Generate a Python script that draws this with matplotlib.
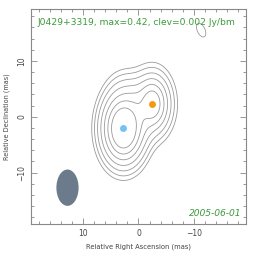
import matplotlib
matplotlib.use("Agg")
import matplotlib.pyplot as plt
import numpy as np
from matplotlib.patches import Ellipse
from matplotlib.ticker import MultipleLocator

# source / map parameters
source = "J0429+3319"
peak_max = 0.42
clev = 0.002
obs_date = "2005-06-01"

# beam (mas): fwhm along RA, fwhm along Dec, centre
beam_w = 4.0
beam_h = 6.5
beam_xy = (12.8, -12.7)

# brightness components: RA, Dec offset (mas), peak (Jy/beam),
# sigma along RA / Dec (mas), tilt of the Dec axis (deg)
comp_x = [2.7, 2.7, -2.5, -2.5, 0.2, 2.2, -11.3]
comp_y = [-2.1, -2.1, 2.3, 2.3, 0.6, 3.2, 15.5]
comp_peak = [0.30, 0.12, 0.08, 0.035, 0.025, 0.008, 0.0027]
comp_sx = [1.2, 2.0, 1.1, 1.9, 1.5, 2.0, 0.9]
comp_sy = [1.95, 3.25, 1.8, 3.1, 2.4, 2.8, 1.7]
comp_tilt = [0, 0, 0, 0, 0, 0, 25]

# marked components
mark_x = [2.7, -2.5]
mark_y = [-2.1, 2.3]
mark_col = ['#74c2f2', '#f59a0c']

# contour levels: clev * 2^n
levels = clev * 2.0 ** np.arange(0, 7)

# build map
x = np.linspace(20, -20, 401)
y = np.linspace(-20, 20, 401)
X, Y = np.meshgrid(x, y)
img = np.zeros_like(X)
for cx, cy, p, sx, sy, t in zip(comp_x, comp_y, comp_peak, comp_sx, comp_sy, comp_tilt):
    th = np.radians(t)
    dx = X - cx
    dy = Y - cy
    u = dx * np.sin(th) + dy * np.cos(th)
    v = dx * np.cos(th) - dy * np.sin(th)
    img += p * np.exp(-(v ** 2 / (2 * sx ** 2) + u ** 2 / (2 * sy ** 2)))

fig = plt.figure(figsize=(2.64, 2.62), dpi=100)
ax = fig.add_axes([0.117, 0.145, 0.815, 0.821])

ax.contour(X, Y, img, levels=levels, colors='#9a9a9a', linewidths=0.6)
ax.plot(mark_x[0], mark_y[0], 'o', color=mark_col[0], ms=5, mec='none')
ax.plot(mark_x[1], mark_y[1], 'o', color=mark_col[1], ms=5, mec='none')

ax.add_patch(Ellipse(beam_xy, beam_w, beam_h, angle=0, facecolor='#6b7b8c', edgecolor='none'))

ax.set_xlim(19.4, -19.4)
ax.set_ylim(-19.2, 19.3)
ax.set_aspect('auto')

ax.xaxis.set_major_locator(MultipleLocator(10))
ax.xaxis.set_minor_locator(MultipleLocator(2))
ax.yaxis.set_major_locator(MultipleLocator(10))
ax.yaxis.set_minor_locator(MultipleLocator(2))
ax.tick_params(which='both', direction='in', top=True, right=True, color='#888888',
               labelsize=5.5, labelcolor='#444444', width=0.6)
ax.tick_params(which='major', length=4)
ax.tick_params(which='minor', length=2)
for lab in ax.get_yticklabels():
    lab.set_rotation(90)
    lab.set_va('center')
for sp in ax.spines.values():
    sp.set_color('#888888')
    sp.set_linewidth(0.8)

ax.set_xlabel("Relative Right Ascension (mas)", fontsize=4.9, color='#444444', labelpad=4)
ax.set_ylabel("Relative Declination (mas)", fontsize=4.7, color='#444444', labelpad=5)

green = '#3a9a3a'
ax.text(0.03, 0.96, "%s, max=%.2f, clev=%.3f Jy/bm" % (source, peak_max, clev),
        transform=ax.transAxes, fontsize=6.6, color=green, ha='left', va='top')
ax.text(0.98, 0.03, obs_date, transform=ax.transAxes, fontsize=6.6, color=green,
        ha='right', va='bottom', style='italic')

fig.savefig("out.png", dpi=100)
